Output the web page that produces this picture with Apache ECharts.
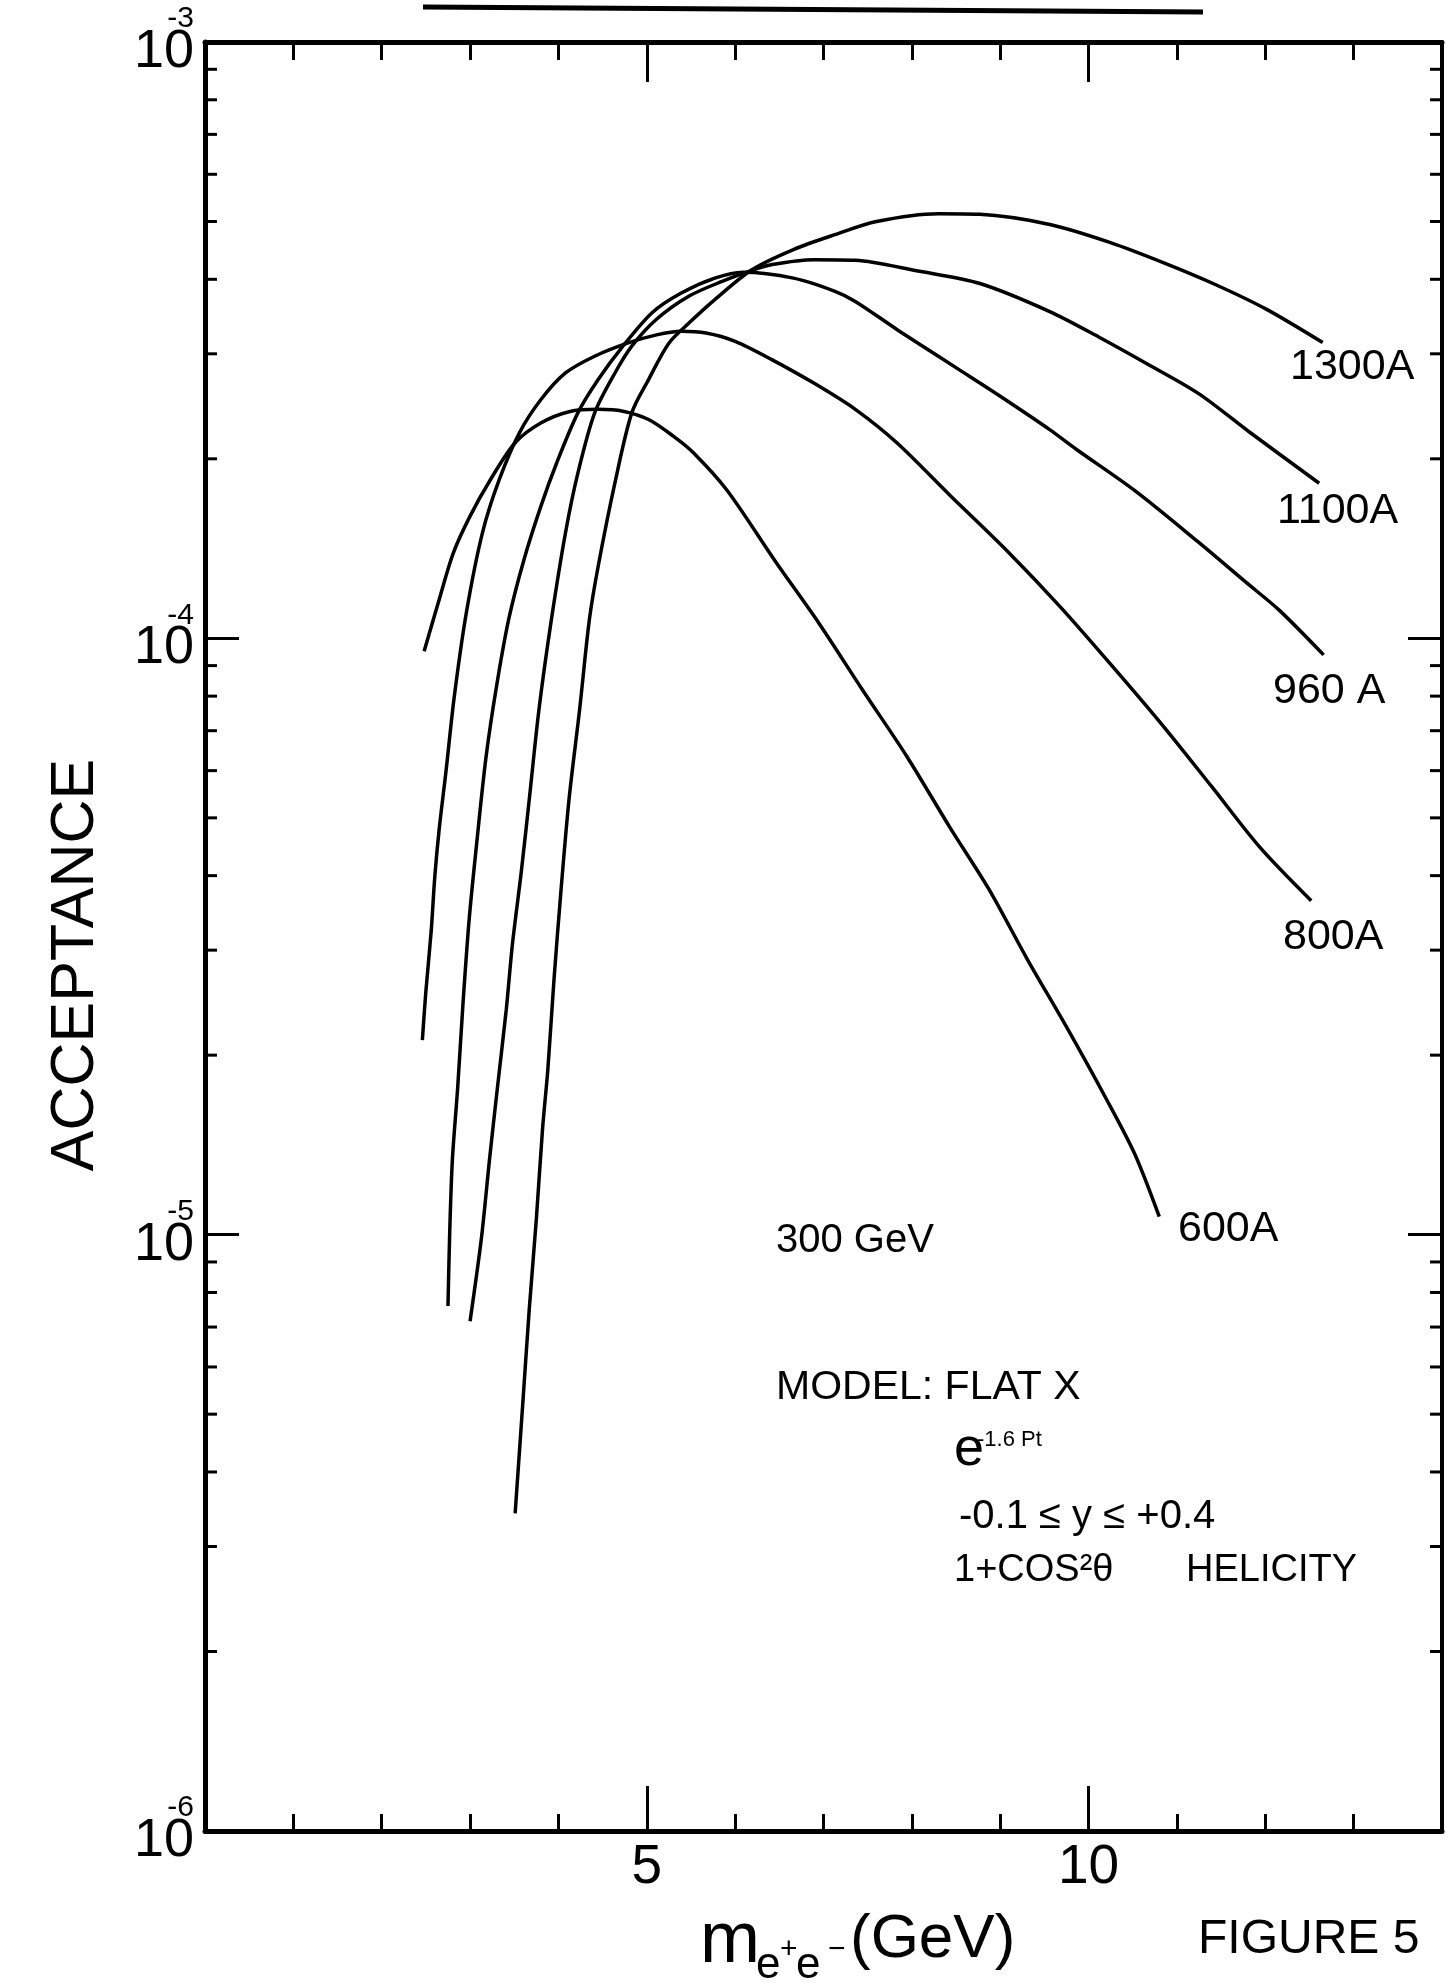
<!DOCTYPE html>
<html>
<head>
<meta charset="utf-8">
<title>Acceptance vs m(e+e-)</title>
<script src="https://cdn.jsdelivr.net/npm/echarts@6/dist/echarts.min.js"></script>
<style>
  html, body { margin: 0; padding: 0; background: #fff; }
  #chart { width: 1446px; height: 1983px; }
</style>
</head>
<body>
<div id="chart"></div>
<script>
// m(e+e-) in GeV and acceptance
const mass600 = [2.48, 2.65, 2.81, 3.00, 3.23, 3.51, 3.80, 4.12, 4.45, 4.73, 5.02, 5.30, 5.53, 5.91, 6.46, 6.95, 7.44, 7.94, 8.43, 8.87, 9.31, 9.75, 10.19, 10.52, 10.80]
const acc600 = [9.51e-5, 1.161e-4, 1.390e-4, 1.603e-4, 1.845e-4, 2.128e-4, 2.296e-4, 2.399e-4, 2.421e-4, 2.404e-4, 2.328e-4, 2.183e-4, 2.046e-4, 1.770e-4, 1.343e-4, 1.059e-4, 8.20e-5, 6.35e-5, 4.82e-5, 3.80e-5, 2.89e-5, 2.23e-5, 1.70e-5, 1.368e-5, 1.072e-5]

const mass800 = [2.46, 2.50, 2.56, 2.60, 2.65, 2.73, 2.82, 2.96, 3.14, 3.33, 3.56, 3.80, 4.08, 4.41, 4.78, 5.11, 5.39, 5.67, 6.00, 6.42, 6.89, 7.36, 7.83, 8.43, 9.09, 9.69, 10.30, 10.84, 11.39, 11.94, 12.52]
const acc800 = [2.12e-5, 2.56e-5, 3.23e-5, 3.97e-5, 4.78e-5, 6.03e-5, 7.96e-5, 1.109e-4, 1.503e-4, 1.845e-4, 2.213e-4, 2.512e-4, 2.786e-4, 2.972e-4, 3.126e-4, 3.228e-4, 3.273e-4, 3.251e-4, 3.148e-4, 2.931e-4, 2.679e-4, 2.421e-4, 2.128e-4, 1.738e-4, 1.396e-4, 1.125e-4, 8.87e-5, 7.14e-5, 5.65e-5, 4.46e-5, 3.63e-5]

const mass960 = [2.75, 2.77, 2.80, 2.86, 2.92, 2.99, 3.07, 3.18, 3.30, 3.44, 3.61, 3.80, 3.98, 4.22, 4.45, 4.73, 5.06, 5.39, 5.77, 6.09, 6.66, 7.13, 7.36, 7.83, 8.07, 8.53, 9.00, 9.56, 9.86, 10.52, 11.23, 11.78, 12.16, 12.66]
const acc960 = [7.59e-6, 1.014e-5, 1.337e-5, 1.766e-5, 2.443e-5, 3.381e-5, 4.46e-5, 6.31e-5, 8.32e-5, 1.081e-4, 1.355e-4, 1.663e-4, 1.968e-4, 2.388e-4, 2.716e-4, 3.090e-4, 3.516e-4, 3.793e-4, 4.018e-4, 4.111e-4, 4.018e-4, 3.819e-4, 3.673e-4, 3.296e-4, 3.126e-4, 2.825e-4, 2.547e-4, 2.239e-4, 2.075e-4, 1.770e-4, 1.455e-4, 1.242e-4, 1.114e-4, 9.38e-5]

const mass1100 = [3.00, 3.13, 3.22, 3.31, 3.41, 3.48, 3.58, 3.67, 3.78, 3.92, 4.08, 4.22, 4.41, 4.64, 4.83, 5.11, 5.48, 5.86, 6.19, 6.42, 6.89, 7.36, 8.07, 8.77, 9.56, 10.12, 10.69, 11.25, 11.82, 12.61]
const acc1100 = [7.16e-6, 9.91e-6, 1.337e-5, 1.766e-5, 2.388e-5, 3.076e-5, 4.064e-5, 5.37e-5, 7.60e-5, 1.074e-4, 1.503e-4, 1.892e-4, 2.388e-4, 2.786e-4, 3.090e-4, 3.428e-4, 3.750e-4, 3.972e-4, 4.140e-4, 4.236e-4, 4.315e-4, 4.305e-4, 4.130e-4, 3.936e-4, 3.532e-4, 3.199e-4, 2.871e-4, 2.570e-4, 2.218e-4, 1.820e-4]

const mass1300 = [3.51, 3.60, 3.67, 3.75, 3.82, 3.88, 3.95, 4.03, 4.12, 4.24, 4.35, 4.45, 4.64, 4.83, 5.02, 5.25, 5.48, 5.77, 6.19, 6.66, 7.13, 7.60, 8.30, 8.77, 9.56, 10.24, 10.88, 11.44, 12.01, 12.65]
const acc1300 = [3.41e-6, 5.30e-6, 7.50e-6, 1.062e-5, 1.503e-5, 1.892e-5, 2.679e-5, 3.793e-5, 5.37e-5, 7.60e-5, 1.074e-4, 1.321e-4, 1.824e-4, 2.388e-4, 2.716e-4, 3.126e-4, 3.381e-4, 3.698e-4, 4.150e-4, 4.487e-4, 4.753e-4, 5.000e-4, 5.152e-4, 5.140e-4, 4.943e-4, 4.613e-4, 4.246e-4, 3.917e-4, 3.565e-4, 3.133e-4]

// axis ranges and ticks
const X_MIN = 0
const X_MAX = 14
const Y_MIN = 1e-6
const Y_MAX = 1e-3
const xLabelled = [5, 10]
const minorMult = [2, 3, 4, 5, 6, 7, 8, 9]
const minorDecades = [1e-6, 1e-5, 1e-4]

const minorTickVals = []
minorDecades.forEach(d => minorMult.forEach(m => minorTickVals.push(m * d)))

const FONT = '"Liberation Sans", Arial, sans-serif'
const INK = '#000'

const chart = echarts.init(document.getElementById('chart'), null, { renderer: 'canvas' })

const curve = (name, xs, ys) => ({
  name,
  type: 'line',
  xAxisIndex: 0,
  yAxisIndex: 0,
  data: xs.map((x, i) => [x, ys[i]]),
  showSymbol: false,
  smooth: 0.3,
  lineStyle: { color: INK, width: 3.5 },
  silent: true,
  z: 3
})

// x axes: short ticks every GeV, long ticks at 5 and 10, on both bottom and top
const xAxisBase = (position, interval, len, lineWidth, showLabel) => ({
  type: 'value',
  position,
  min: X_MIN,
  max: X_MAX,
  interval,
  axisLine: { show: lineWidth > 0, onZero: false, lineStyle: { color: INK, width: lineWidth } },
  axisTick: { show: true, inside: true, length: len, lineStyle: { color: INK, width: 3 } },
  axisLabel: showLabel ? {
    show: true,
    margin: 9,
    color: INK,
    fontFamily: FONT,
    fontSize: 55,
    showMinLabel: true,
    showMaxLabel: true,
    formatter: v => xLabelled.includes(v) ? String(v) : ''
  } : { show: false },
  splitLine: { show: false }
})

const yAxisBase = (position, lineWidth, showLabel) => ({
  type: 'log',
  logBase: 10,
  position,
  min: Y_MIN,
  max: Y_MAX,
  axisLine: { show: true, onZero: false, lineStyle: { color: INK, width: lineWidth } },
  axisTick: { show: true, inside: true, length: 34, lineStyle: { color: INK, width: 3 } },
  axisLabel: showLabel ? {
    show: true,
    margin: 11,
    showMinLabel: true,
    showMaxLabel: true,
    formatter: v => `{s|${Math.round(Math.log10(v))}}\n{b|10}`,
    rich: {
      s: { fontSize: 30, lineHeight: 20, align: 'right', fontFamily: FONT, color: INK },
      b: { fontSize: 54, lineHeight: 46, align: 'right', fontFamily: FONT, color: INK }
    }
  } : { show: false },
  splitLine: { show: false }
})

const txt = (text, x, y, size, opts = {}) => ({
  type: 'text',
  x,
  y,
  rotation: opts.rotation || 0,
  silent: true,
  z: 10,
  style: {
    text,
    fill: INK,
    font: `${size}px ${FONT}`,
    align: opts.align || 'left',
    textAlign: opts.align || 'left',
    verticalAlign: 'middle',
    textVerticalAlign: 'middle'
  }
})

const option = {
  animation: false,
  backgroundColor: '#fff',
  grid: { left: 205, top: 42, width: 1237, height: 1789, containLabel: false, outerBoundsMode: 'none' },
  xAxis: [
    xAxisBase('bottom', 1, 17, 5, false),
    xAxisBase('bottom', 5, 45, 0, true),
    xAxisBase('top', 1, 18, 5, false),
    xAxisBase('top', 5, 40, 0, false)
  ],
  yAxis: [
    yAxisBase('left', 5, true),
    yAxisBase('right', 4, false)
  ],
  series: [
    curve('600A', mass600, acc600),
    curve('800A', mass800, acc800),
    curve('960A', mass960, acc960),
    curve('1100A', mass1100, acc1100),
    curve('1300A', mass1300, acc1300),
    {
      // minor decade ticks on the left and right frame
      type: 'custom',
      xAxisIndex: 0,
      yAxisIndex: 0,
      silent: true,
      clip: false,
      encode: { x: 0, y: 1 },
      data: minorTickVals.map(v => [X_MIN, v]),
      renderItem: (params, api) => {
        const v = api.value(1)
        const l = api.coord([X_MIN, v])
        const r = api.coord([X_MAX, v])
        return {
          type: 'group',
          children: [
            { type: 'line', shape: { x1: l[0], y1: l[1], x2: l[0] + 12, y2: l[1] }, style: { stroke: INK, lineWidth: 3 } },
            { type: 'line', shape: { x1: r[0], y1: r[1], x2: r[0] - 12, y2: r[1] }, style: { stroke: INK, lineWidth: 3 } }
          ]
        }
      }
    }
  ],
  graphic: [
    { type: 'line', silent: true, shape: { x1: 423, y1: 7, x2: 1203, y2: 12 }, style: { stroke: INK, lineWidth: 5 } },
    // curve labels
    txt('1300A', 1290, 367, 43),
    txt('1100A', 1277, 511, 43),
    txt('960 A', 1273, 691, 43),
    txt('800A', 1283, 937, 43),
    txt('600A', 1178, 1229, 43),
    // run conditions
    txt('300 GeV', 776, 1241, 40),
    txt('MODEL: FLAT X', 776, 1388, 41),
    txt('e', 954, 1450, 54),
    txt('-1.6 Pt', 977, 1440, 22),
    txt('-0.1 ≤ y ≤ +0.4', 959, 1517, 40),
    txt('1+COS²θ', 954, 1571, 38),
    txt('HELICITY', 1186, 1571, 38),
    // axis titles
    txt('ACCEPTANCE', 76, 965, 61, { rotation: Math.PI / 2, align: 'center' }),
    txt('m', 700, 1942, 72),
    txt('e', 756, 1966, 44),
    txt('+', 780, 1950, 30),
    txt('e', 796, 1966, 44),
    txt('−', 828, 1950, 30),
    txt('(GeV)', 850, 1940, 62),
    txt('FIGURE 5', 1198, 1940, 48)
  ]
}

chart.setOption(option)
window.addEventListener('resize', () => chart.resize())
</script>
</body>
</html>
